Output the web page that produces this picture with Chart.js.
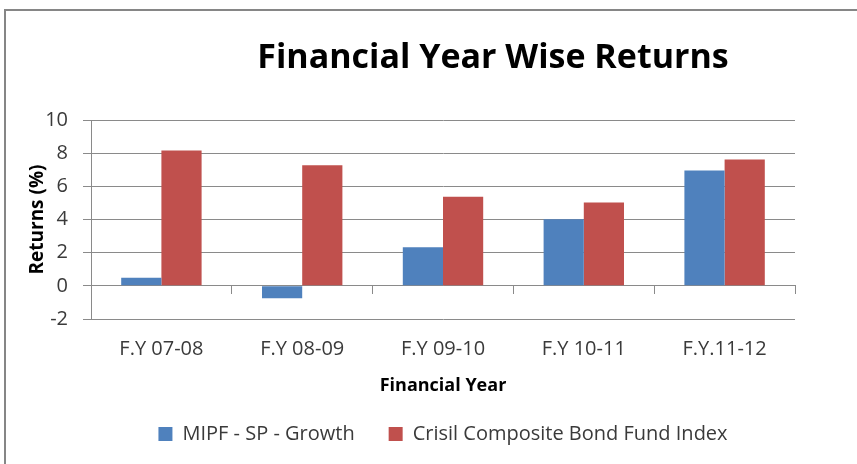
<!DOCTYPE html>
<html>
<head>
<meta charset="utf-8">
<script src="https://cdn.jsdelivr.net/npm/chart.js@4"></script>
<style>
  html, body { margin: 0; padding: 0; background: #ffffff; }
  #wrap { position: relative; width: 857px; height: 464px; }
</style>
</head>
<body>
<div id="wrap"><canvas id="c" width="857" height="464"></canvas></div>
<script>
const chartTitle = 'Financial Year Wise Returns';
const categories = ['F.Y 07-08', 'F.Y 08-09', 'F.Y 09-10', 'F.Y 10-11', 'F.Y.11-12'];
const seriesNames = ['MIPF - SP - Growth', 'Crisil Composite Bond Fund Index'];
const mipfValues = [0.48, -0.75, 2.32, 4.02, 6.95];
const crisilValues = [8.16, 7.27, 5.37, 5.03, 7.62];
const yTickMin = -2;
const yTickMax = 10;
const yTickStep = 2;
const xAxisTitle = 'Financial Year';
const yAxisTitle = 'Returns (%)';

const gridColor = '#8a8a8a';
const textColor = '#3a3a3a';

const framePlugin = {
  id: 'frame',
  beforeDraw(chart) {
    const ctx = chart.ctx;
    ctx.save();
    ctx.fillStyle = '#ffffff';
    ctx.fillRect(0, 0, chart.width, chart.height);
    ctx.fillStyle = '#868686';
    ctx.fillRect(4, 9, chart.width - 4, 2);
    ctx.fillRect(4, 9, 2, chart.height - 9);
    ctx.restore();
  },
  afterDraw(chart) {
    const ctx = chart.ctx;
    ctx.save();
    ctx.fillStyle = '#000000';
    ctx.font = 'bold 34px "Open Sans"';
    ctx.textAlign = 'center';
    ctx.textBaseline = 'middle';
    ctx.fillText(chartTitle, 493, 58);
    ctx.restore();
  }
};

new Chart(document.getElementById('c'), {
  type: 'bar',
  data: {
    labels: categories,
    datasets: [
      { label: seriesNames[0], data: mipfValues, backgroundColor: '#4F81BD', borderWidth: 0 },
      { label: seriesNames[1], data: crisilValues, backgroundColor: '#C0504D', borderWidth: 0 }
    ]
  },
  options: {
    responsive: false,
    animation: false,
    devicePixelRatio: 1,
    layout: { padding: { left: 6, right: 62, top: 120, bottom: 10 } },
    datasets: { bar: { categoryPercentage: 0.571, barPercentage: 1.0 } },
    plugins: {
      title: { display: false },
      tooltip: { enabled: false },
      legend: {
        position: 'bottom',
        align: 'center',
        fullSize: false,
        labels: {
          boxWidth: 14,
          boxHeight: 14,
          padding: 34,
          color: textColor,
          font: { family: '"Open Sans"', size: 20 }
        }
      }
    },
    scales: {
      x: {
        position: 'bottom',
        offset: true,
        grid: { display: false, drawTicks: false },
        border: { display: false },
        ticks: { color: textColor, padding: 18, maxRotation: 0, autoSkip: false, font: { family: '"Open Sans"', size: 20 } },
        title: { display: true, text: xAxisTitle, color: '#000000', font: { family: '"Open Sans"', size: 18, weight: 'bold' }, padding: { top: 0, bottom: -7 } },
        afterFit(scale) { scale.height = 71; }
      },
      x0: {
        type: 'category',
        position: { y: 0 },
        offset: true,
        grid: { display: true, drawOnChartArea: false, drawTicks: true, tickLength: 8, offset: true, color: gridColor, lineWidth: 1 },
        border: { display: true, color: gridColor, width: 1 },
        ticks: { display: false }
      },
      y: {
        min: yTickMin,
        max: yTickMax,
        ticks: { stepSize: yTickStep, color: textColor, padding: 15, font: { family: '"Open Sans"', size: 20 } },
        grid: { color: gridColor, lineWidth: 1, tickLength: 8, drawTicks: true },
        border: { display: true, color: gridColor, width: 1 },
        title: { display: true, text: yAxisTitle, color: '#000000', font: { family: '"Open Sans"', size: 19, weight: 'bold' }, padding: { top: 20, bottom: 0 } },
        afterFit(scale) { scale.width = 85; }
      }
    }
  },
  plugins: [framePlugin]
});
</script>
</body>
</html>
